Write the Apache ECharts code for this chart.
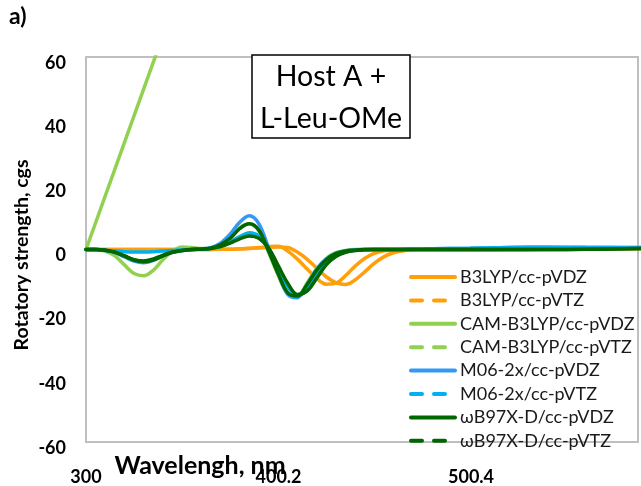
<!DOCTYPE html>
<html>
<head>
<meta charset="utf-8">
<script src="https://cdn.jsdelivr.net/npm/echarts@6/dist/echarts.min.js"></script>
<style>
  html, body { margin: 0; padding: 0; background: #fff; }
  #chart { width: 641px; height: 486px; }
</style>
</head>
<body>
<div id="chart"></div>
<script>
// wavelengths (nm) shared by all curves
const wavelengths = [300, 305, 310, 315, 320, 325, 330, 335, 340, 345, 350, 355, 360, 365, 370, 375, 380, 385, 390, 395,
  400, 405, 410, 415, 420, 425, 430, 435, 440, 445, 450, 455, 460, 465, 470, 475, 480, 500, 520, 540, 560, 590];

const b3lypVDZ = [0, 0, 0, 0, 0, 0, 0, 0, 0, 0, 0, 0, 0, 0, 0.1, 0.1, 0.2, 0.4, 0.6, 0.9,
  1.0, -0.5, -3.0, -6.0, -9.0, -10.8, -10.5, -8.2, -5.2, -2.8, -1.2, -0.4, -0.1, 0, 0, 0, 0, 0, 0, 0.1, 0.2, 0.3];
const b3lypVTZ = [0, 0, 0, 0, 0, 0, 0, 0, 0, 0, 0, 0, 0, 0, 0.1, 0.1, 0.2, 0.3, 0.5, 0.7,
  0.8, 0.6, -0.8, -3.0, -5.8, -8.5, -10.3, -10.9, -9.5, -7.0, -4.3, -2.3, -1.0, -0.4, -0.1, 0, 0, 0, 0, 0.1, 0.2, 0.3];
const camVDZ = [0, 0, -0.5, -2.0, -4.8, -7.5, -8.2, -6.5, -3.2, -0.5, 0.8, 0.6, 0.3, 0.5, 1.6, 3.8, 6.8, 8.0, 5.8, -0.8,
  -8.0, -13.8, -14.5, -10.5, -6.0, -2.8, -1.0, -0.3, 0, 0, 0, 0, 0, 0, 0, 0, 0, 0, 0.1, 0.2, 0.3, 0.6];
const camVTZ = [0, 0, -0.2, -0.8, -2.0, -3.2, -3.6, -3.0, -1.8, -0.8, -0.3, 0, 0.1, 0.3, 0.9, 2.1, 3.5, 4.5, 3.6, 0.3,
  -5.2, -10.8, -14.2, -12.8, -8.8, -4.6, -2.1, -0.8, -0.3, -0.1, 0, 0, 0, 0, 0, 0, 0, 0, 0.1, 0.2, 0.3, 0.5];
// the straight rising trace of the CAM-B3LYP/cc-pVTZ data, leaving the plot at the top
const camVTZRise = [[300, 0], [345, 75]];
const m06VDZ = [0, 0, -0.3, -1.0, -2.3, -3.6, -4.1, -3.4, -2.0, -0.9, -0.3, 0, 0.2, 0.6, 2.0, 4.8, 8.5, 10.5, 8.0, 0.5,
  -7.5, -14.0, -15.0, -11.0, -6.2, -3.0, -1.2, -0.4, -0.1, 0, 0, 0, 0, 0, 0.1, 0.1, 0.2, 0.4, 0.6, 0.7, 0.7, 0.6];
const m06VTZ = [0, 0, -0.2, -0.5, -0.7, -0.8, -0.8, -0.7, -0.5, -0.3, -0.1, 0, 0.1, 0.3, 1.0, 2.4, 4.0, 5.2, 4.2, 0.5,
  -5.5, -11.5, -14.5, -12.5, -8.0, -4.2, -1.8, -0.7, -0.2, 0, 0, 0, 0, 0, 0.1, 0.1, 0.2, 0.4, 0.6, 0.7, 0.6, 0.5];
const wb97VDZ = [0, 0, -0.2, -0.8, -2.0, -3.2, -3.6, -3.0, -1.8, -0.8, -0.3, 0, 0.1, 0.4, 1.5, 3.5, 6.5, 8.0, 6.0, -0.5,
  -7.5, -13.5, -14.5, -11.0, -6.5, -3.2, -1.3, -0.5, -0.2, 0, 0, 0, 0, 0, 0, 0, 0, 0, 0, 0, 0.1, 0.3];
const wb97VTZ = [0, 0, -0.2, -0.8, -2.0, -3.3, -3.8, -3.3, -2.0, -0.9, -0.3, 0, 0.1, 0.3, 0.9, 2.0, 3.3, 4.2, 3.5, 0.5,
  -5.0, -10.5, -14.0, -13.0, -9.0, -4.8, -2.2, -0.9, -0.3, -0.1, 0, 0, 0, 0, 0, 0, 0, 0, 0, 0, 0.1, 0.3];

const xTicks = { min: 300, max: 587.3, step: 100.2 };
const yTicks = { min: -60, max: 60, step: 20 };

const seriesNames = ['B3LYP/cc-pVDZ', 'B3LYP/cc-pVTZ', 'CAM-B3LYP/cc-pVDZ', 'CAM-B3LYP/cc-pVTZ',
  'M06-2x/cc-pVDZ', 'M06-2x/cc-pVTZ', 'ωB97X-D/cc-pVDZ', 'ωB97X-D/cc-pVTZ'];
const seriesValues = [b3lypVDZ, b3lypVTZ, camVDZ, camVTZ, m06VDZ, m06VTZ, wb97VDZ, wb97VTZ];
const colors = ['#FF9F0A', '#FF9F0A', '#92D050', '#92D050', '#3399F5', '#00B0F0', '#006600', '#006600'];

const font = 'Lato, "Open Sans", sans-serif';

const chart = echarts.init(document.getElementById('chart'));

const series = seriesNames.map((name, i) => ({
  name: name,
  type: 'line',
  data: wavelengths.map((w, k) => [w, seriesValues[i][k]]),
  smooth: 0.35,
  showSymbol: false,
  symbol: 'none',
  lineStyle: { color: colors[i], width: 3.5, cap: 'round' },
  itemStyle: { color: colors[i] },
  z: 2 + i
}));
// rising trace drawn under the same legend entry
series.push({
  name: 'CAM-B3LYP/cc-pVTZ',
  type: 'line',
  data: camVTZRise,
  showSymbol: false,
  symbol: 'none',
  lineStyle: { color: colors[3], width: 3.5 },
  itemStyle: { color: colors[3] },
  z: 2
});

chart.setOption({
  animation: false,
  color: colors,
  grid: {
    left: 86, top: 57, width: 552, height: 386,
    show: true, borderColor: '#BFBFBF', borderWidth: 2, backgroundColor: 'transparent'
  },
  legend: {
    orient: 'vertical',
    left: 409, top: 268,
    padding: 0,
    itemWidth: 44, itemHeight: 14, itemGap: 5.4,
    itemStyle: { opacity: 0 },
    textStyle: { fontFamily: font, fontSize: 18, lineHeight: 14, color: '#1a1a1a' },
    data: seriesNames.map((name, i) => ({
      name: name,
      lineStyle: { width: 4, type: i % 2 === 1 ? [11, 12] : 'solid', cap: 'round', color: colors[i] }
    }))
  },
  xAxis: {
    type: 'value',
    min: xTicks.min, max: xTicks.max, interval: xTicks.step,
    axisLine: { show: false },
    axisTick: { show: false },
    splitLine: { show: false },
    axisLabel: {
      showMaxLabel: false,
      margin: 26,
      fontFamily: font, fontSize: 18, fontWeight: 'bold', color: '#000',
      formatter: v => String(Math.round(v * 10) / 10)
    }
  },
  yAxis: {
    type: 'value',
    min: yTicks.min, max: yTicks.max, interval: yTicks.step,
    axisLine: { show: false },
    axisTick: { show: false },
    splitLine: { show: false },
    axisLabel: {
      margin: 20,
      verticalAlign: 'top',
      lineHeight: 12,
      fontFamily: font, fontSize: 18, fontWeight: 'bold', color: '#000'
    }
  },
  graphic: [
    { type: 'text', left: 9, top: 5, style: { text: 'a)', font: 'bold 23px ' + font, fill: '#000' } },
    {
      type: 'text', x: 22, y: 255, rotation: Math.PI / 2,
      style: { text: 'Rotatory strength, cgs', font: 'bold 19.5px ' + font, fill: '#000', align: 'center', verticalAlign: 'middle' }
    },
    {
      type: 'text', x: 200, y: 466,
      style: { text: 'Wavelengh, nm', font: 'bold 25px ' + font, fill: '#000', align: 'center', verticalAlign: 'middle' }
    },
    {
      type: 'rect', shape: { x: 252, y: 55, width: 158, height: 83 }, z: 50,
      style: { fill: '#fff', stroke: '#000', lineWidth: 1.5 }
    },
    {
      type: 'text', x: 331, y: 77, z: 51,
      style: { text: 'Host A +', font: '28.5px ' + font, fill: '#000', align: 'center', verticalAlign: 'middle' }
    },
    {
      type: 'text', x: 331, y: 119, z: 51,
      style: { text: 'L-Leu-OMe', font: '28.5px ' + font, fill: '#000', align: 'center', verticalAlign: 'middle' }
    }
  ],
  series: series
});
</script>
</body>
</html>
